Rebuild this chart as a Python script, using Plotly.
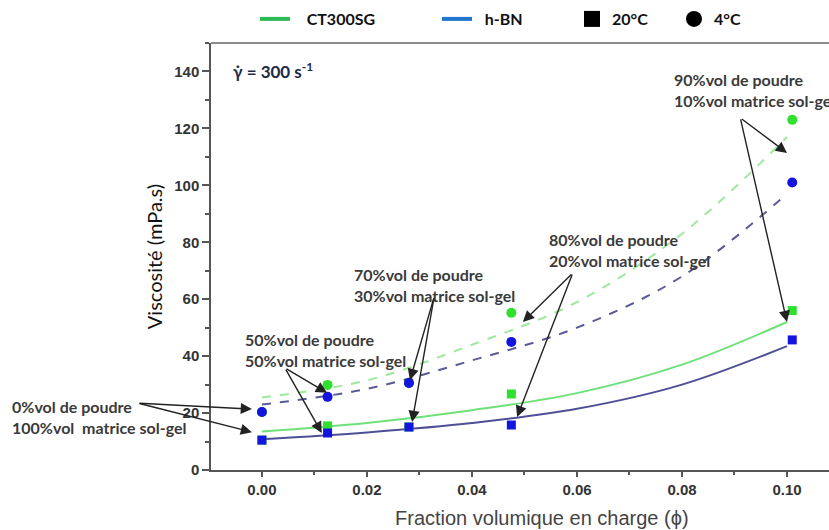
import plotly.graph_objects as go

# ---------------- data ----------------
phi = [0.0, 0.0125, 0.028, 0.0475, 0.101]
ct300_20C = [10.5, 15.5, 15.1, 26.7, 56.0]
hbn_20C = [10.5, 13.0, 15.1, 15.8, 45.7]
ct300_4C = [20.4, 29.9, 30.6, 55.2, 123.0]
hbn_4C = [20.4, 25.7, 30.6, 45.0, 101.0]

fit_phi = [0.0, 0.02, 0.04, 0.06, 0.08, 0.10]
fit_ct300_20C = [13.5, 16.5, 21.0, 27.0, 37.0, 52.0]
fit_hbn_20C = [10.8, 13.2, 16.5, 21.5, 30.0, 43.5]
fit_ct300_4C = [25.5, 31.5, 44.0, 59.0, 83.0, 117.0]
fit_hbn_4C = [23.0, 28.5, 38.5, 50.0, 68.0, 97.0]

legend_names = ["CT300SG", "h-BN", "20°C", "4°C"]

# annotation labels inside the axes: (text, x, y)
labels = [
    ("50%vol de poudre<br>50%vol matrice sol-gel", -0.0036, 42.2),
    ("70%vol de poudre<br>30%vol matrice sol-gel", 0.0171, 65.0),
    ("80%vol de poudre<br>20%vol matrice sol-gel", 0.0543, 77.3),
    ("90%vol de poudre<br>10%vol matrice sol-gel", 0.0781, 133.5),
]
# label left of the axis (paper coordinates)
outer_label = ("0%vol de poudre<br>100%vol  matrice sol-gel", -0.325, 0.124)

# arrows: (tail x, tail y, head x, head y)
arrows = [
    (-0.0236, 23.5, -0.0019, 21.4),
    (-0.0236, 23.5, -0.0019, 13.3),
    (0.0044, 35.8, 0.0124, 27.1),
    (0.0044, 35.8, 0.0114, 13.0),
    (0.0328, 60.8, 0.0282, 31.6),
    (0.0328, 60.8, 0.0286, 16.9),
    (0.0592, 69.2, 0.0497, 52.0),
    (0.0592, 69.2, 0.0486, 18.6),
    (0.0911, 123.7, 0.1000, 111.4),
    (0.0911, 123.7, 0.1000, 52.0),
]

GREEN_PT = "#2fe02f"
BLUE_PT = "#1414e0"
GREEN_SOLID = "#6fe07a"
GREEN_DASH = "#9fe89f"
BLUE_SOLID = "#4f4f96"
BLUE_DASH = "#5a5a96"

fig = go.Figure()

# fitted curves
fig.add_trace(go.Scatter(x=fit_phi, y=fit_ct300_4C, mode="lines", line=dict(color=GREEN_DASH, width=2, dash="dash", shape="spline"), showlegend=False))
fig.add_trace(go.Scatter(x=fit_phi, y=fit_hbn_4C, mode="lines", line=dict(color=BLUE_DASH, width=2, dash="dash", shape="spline"), showlegend=False))
fig.add_trace(go.Scatter(x=fit_phi, y=fit_ct300_20C, mode="lines", line=dict(color=GREEN_SOLID, width=2, shape="spline"), showlegend=False))
fig.add_trace(go.Scatter(x=fit_phi, y=fit_hbn_20C, mode="lines", line=dict(color=BLUE_SOLID, width=2, shape="spline"), showlegend=False))

# measured points
fig.add_trace(go.Scatter(x=phi, y=ct300_4C, mode="markers", marker=dict(symbol="circle", size=10, color=GREEN_PT), showlegend=False))
fig.add_trace(go.Scatter(x=phi, y=ct300_20C, mode="markers", marker=dict(symbol="square", size=9, color=GREEN_PT), showlegend=False))
fig.add_trace(go.Scatter(x=phi, y=hbn_4C, mode="markers", marker=dict(symbol="circle", size=10, color=BLUE_PT), showlegend=False))
fig.add_trace(go.Scatter(x=phi, y=hbn_20C, mode="markers", marker=dict(symbol="square", size=9, color=BLUE_PT), showlegend=False))

# legend entries (one legend each, placed along the top)
leg_font = dict(family="Lato", size=16, weight="bold", color="#111")
fig.add_trace(go.Scatter(x=[None], y=[None], mode="lines", name="   " + legend_names[0], line=dict(color="#2dbb55", width=4), legend="legend"))
fig.add_trace(go.Scatter(x=[None], y=[None], mode="lines", name="  " + legend_names[1], line=dict(color="#2277cc", width=4), legend="legend2"))
fig.add_trace(go.Scatter(x=[None], y=[None], mode="markers", name=legend_names[2], marker=dict(symbol="square", size=19, color="#000"), legend="legend3"))
fig.add_trace(go.Scatter(x=[None], y=[None], mode="markers", name=legend_names[3], marker=dict(symbol="circle", size=18, color="#000"), legend="legend4"))

L, R, T, B = 211, 0, 43, 60
W, H = 829, 530
pw = W - L - R
ph = H - T - B


def px2paper(px):
    return (px - L) / pw


def py2paper(py):
    return (H - B - py) / ph


leg_y = py2paper(19)


def leg(px):
    return dict(x=px2paper(px), y=leg_y, xanchor="left", yanchor="middle", orientation="h",
                font=leg_font, bgcolor="rgba(0,0,0,0)", borderwidth=0, tracegroupgap=0)


lab_font = dict(family="Lato", size=16, weight="bold", color="#3a3a3a")
for text, x, y in labels:
    fig.add_annotation(x=x, y=y, xref="x", yref="y", text=text, showarrow=False, xanchor="left",
                       yanchor="middle", align="left", font=lab_font)
fig.add_annotation(x=outer_label[1], y=outer_label[2], xref="paper", yref="paper", text=outer_label[0],
                   showarrow=False, xanchor="left", yanchor="middle", align="left", font=lab_font)
for tx, ty, hx, hy in arrows:
    fig.add_annotation(x=hx, y=hy, xref="x", yref="y", ax=tx, ay=ty, axref="x", ayref="y", text="",
                       showarrow=True, arrowhead=2, arrowsize=1.6, arrowwidth=1.4, arrowcolor="#222")

fig.add_annotation(x=px2paper(231), y=py2paper(71), xref="paper", yref="paper", xanchor="left", yanchor="middle",
                   text="γ̇ = 300 s<sup>-1</sup>", showarrow=False,
                   font=dict(family="Lato", size=17, weight="bold", color="#1e2a48"))

# x-axis title (the original figure is cropped on the right, so its title is off-centre)
fig.add_annotation(x=px2paper(542), y=py2paper(518), xref="paper", yref="paper", xanchor="center", yanchor="middle",
                   text="Fraction volumique en charge (ϕ)", showarrow=False,
                   font=dict(family="Liberation Sans", size=20, color="#444"))

# top frame line
fig.add_shape(type="line", xref="paper", yref="paper", x0=0, x1=1, y0=1, y1=1,
              line=dict(color="#666", width=1.5))

tick_font = dict(family="Liberation Sans", size=15, weight="bold", color="#333")
fig.update_layout(
    width=W, height=H,
    margin=dict(l=L, r=R, t=T, b=B, autoexpand=False),
    plot_bgcolor="white", paper_bgcolor="white",
    legend=leg(255), legend2=leg(437), legend3=leg(572), legend4=leg(674),
    xaxis=dict(range=[-0.0097, 0.108], showgrid=False, zeroline=False, showline=True, linecolor="#555",
               linewidth=1.5, ticks="outside", ticklen=5, tickcolor="#555", tickwidth=1.5,
               tickvals=[0, 0.02, 0.04, 0.06, 0.08, 0.10], ticktext=["0.00", "0.02", "0.04", "0.06", "0.08", "0.10"],
               minor=dict(ticks="outside", ticklen=3, dtick=0.01, tick0=0, tickcolor="#555", tickwidth=1.5),
               tickfont=tick_font, automargin=False),
    yaxis=dict(range=[0, 150], showgrid=False, zeroline=False, showline=True, linecolor="#555",
               linewidth=1.5, ticks="outside", ticklen=7, tickcolor="#555", tickwidth=1.5,
               dtick=20, tick0=0, automargin=False,
               minor=dict(ticks="outside", ticklen=4, dtick=10, tickcolor="#555", tickwidth=1.5),
               tickfont=tick_font,
               title=dict(text="Viscosité (mPa.s)", standoff=6,
                          font=dict(family="Lato", size=20, color="#111"))),
)

# remove the browser's default 8px page margin so the figure fills the window exactly
fig.write_html("out.html", config={"displayModeBar": False},
               post_script="document.body.style.margin='0';document.body.style.overflow='hidden';")
